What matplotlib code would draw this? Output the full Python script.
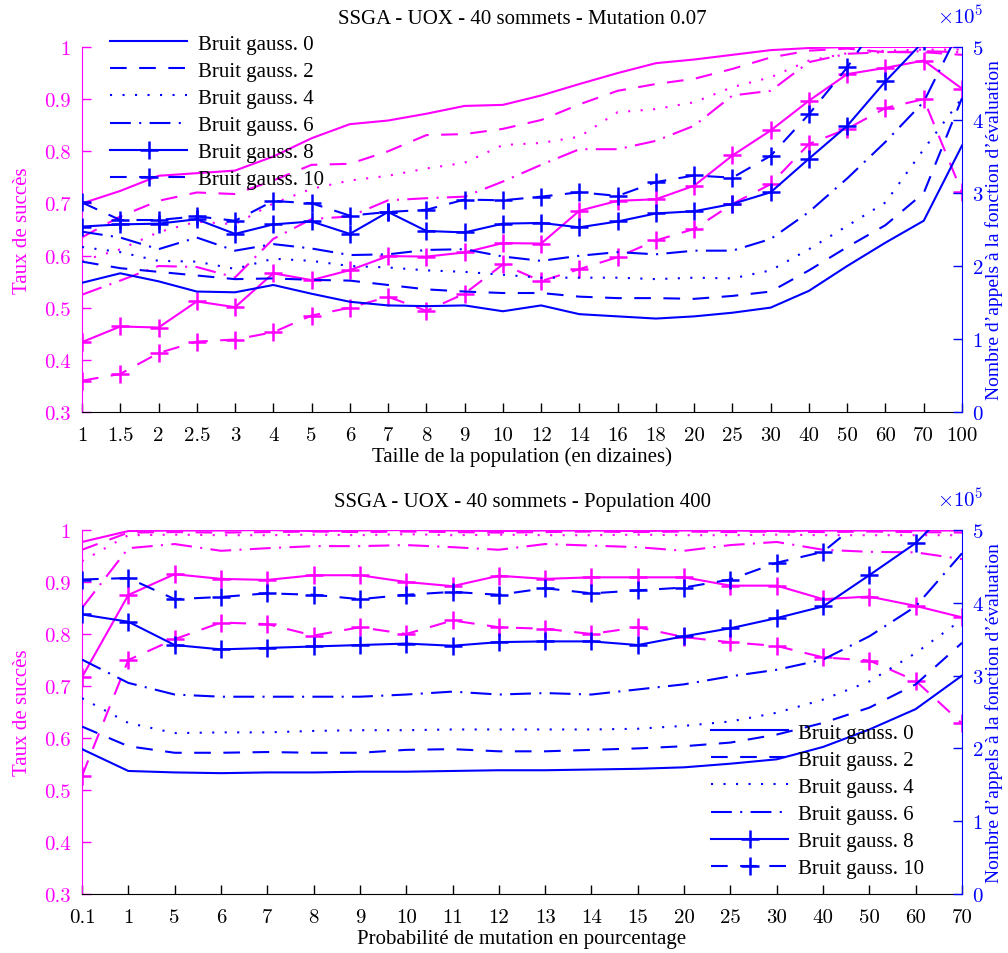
import numpy as np
import matplotlib
matplotlib.use("Agg")
import matplotlib.pyplot as plt
from matplotlib.ticker import ScalarFormatter

plt.rcParams['font.family'] = ['Liberation Serif', 'DejaVu Serif']
plt.rcParams['mathtext.fontset'] = 'cm'
plt.rcParams['axes.formatter.use_mathtext'] = True

# ---- Panel 1 : population size (tens), mutation 0.07 ----
pop_labels = ['1', '1.5', '2', '2.5', '3', '4', '5', '6', '7', '8', '9', '10', '12',
              '14', '16', '18', '20', '25', '30', '40', '50', '60', '70', '100']

# success rate per gaussian noise level
pop_succ_0 = [0.700, 0.724, 0.753, 0.758, 0.763, 0.790, 0.825, 0.852, 0.859, 0.872, 0.887, 0.889,
              0.907, 0.929, 0.950, 0.969, 0.976, 0.985, 0.994, 0.998, 1.000, 1.000, 1.000, 1.000]
pop_succ_2 = [0.635, 0.675, 0.705, 0.721, 0.718, 0.744, 0.774, 0.776, 0.800, 0.831, 0.833, 0.843,
              0.860, 0.890, 0.916, 0.929, 0.939, 0.958, 0.980, 0.993, 0.997, 0.990, 0.990, 0.985]
pop_succ_4 = [0.590, 0.612, 0.645, 0.665, 0.660, 0.700, 0.728, 0.744, 0.753, 0.767, 0.778, 0.812,
              0.816, 0.828, 0.875, 0.881, 0.894, 0.923, 0.942, 0.974, 0.988, 0.993, 0.995, 0.995]
pop_succ_6 = [0.525, 0.552, 0.580, 0.578, 0.558, 0.632, 0.670, 0.675, 0.706, 0.710, 0.713, 0.742,
              0.774, 0.804, 0.804, 0.820, 0.849, 0.907, 0.916, 0.971, 0.987, 0.990, 0.992, 0.990]
pop_succ_8 = [0.434, 0.464, 0.462, 0.512, 0.501, 0.566, 0.553, 0.572, 0.599, 0.598, 0.606, 0.624,
              0.623, 0.686, 0.705, 0.708, 0.734, 0.792, 0.840, 0.897, 0.948, 0.960, 0.974, 0.920]
pop_succ_10 = [0.360, 0.373, 0.413, 0.435, 0.439, 0.453, 0.485, 0.500, 0.521, 0.494, 0.527, 0.583,
               0.551, 0.574, 0.597, 0.629, 0.651, 0.699, 0.737, 0.814, 0.843, 0.883, 0.900, 0.721]

# evaluation calls (x 1e5) per gaussian noise level
pop_eval_0 = [1.77, 1.90, 1.79, 1.65, 1.64, 1.74, 1.62, 1.51, 1.46, 1.45, 1.46, 1.38,
              1.46, 1.34, 1.31, 1.28, 1.31, 1.36, 1.43, 1.66, 2.00, 2.32, 2.62, 3.65]
pop_eval_2 = [2.06, 1.97, 1.92, 1.87, 1.82, 1.83, 1.81, 1.80, 1.74, 1.68, 1.65, 1.63,
              1.63, 1.58, 1.56, 1.56, 1.55, 1.59, 1.65, 1.94, 2.26, 2.56, 3.00, 4.30]
pop_eval_4 = [2.26, 2.19, 2.07, 2.06, 1.96, 2.10, 2.07, 2.00, 1.98, 1.94, 1.92, 1.88,
              1.84, 1.84, 1.84, 1.82, 1.84, 1.83, 1.94, 2.23, 2.55, 2.87, 3.60, 4.30]
pop_eval_6 = [2.47, 2.39, 2.23, 2.39, 2.21, 2.30, 2.24, 2.15, 2.16, 2.22, 2.23, 2.13,
              2.07, 2.14, 2.19, 2.16, 2.21, 2.21, 2.37, 2.74, 3.20, 3.70, 4.25, 5.30]
pop_eval_8 = [2.54, 2.57, 2.58, 2.64, 2.44, 2.57, 2.61, 2.44, 2.74, 2.48, 2.46, 2.58,
              2.59, 2.53, 2.61, 2.72, 2.75, 2.85, 3.01, 3.47, 3.92, 4.53, 5.08, 5.90]
pop_eval_10 = [2.87, 2.63, 2.63, 2.68, 2.62, 2.89, 2.86, 2.69, 2.74, 2.77, 2.91, 2.90,
               2.95, 3.01, 2.96, 3.15, 3.24, 3.21, 3.51, 4.08, 4.72, 5.50, 6.00, 6.50]

# ---- Panel 2 : mutation probability (%), population 400 ----
mut_labels = ['0.1', '1', '5', '6', '7', '8', '9', '10', '11', '12', '13', '14', '15',
              '20', '25', '30', '40', '50', '60', '70']

mut_succ_0 = [0.977, 0.998, 0.999, 0.999, 1.000, 0.998, 0.999, 1.000, 0.999, 0.998,
              0.999, 0.999, 0.998, 0.999, 0.999, 0.998, 0.999, 0.999, 0.999, 0.999]
mut_succ_2 = [0.962, 0.995, 0.996, 0.995, 0.996, 0.997, 0.996, 0.997, 0.996, 0.995,
              0.996, 0.997, 0.996, 0.997, 0.996, 0.997, 0.996, 0.997, 0.996, 0.995]
mut_succ_4 = [0.940, 0.990, 0.991, 0.990, 0.990, 0.991, 0.990, 0.992, 0.990, 0.991,
              0.990, 0.990, 0.991, 0.990, 0.990, 0.991, 0.990, 0.990, 0.990, 0.990]
mut_succ_6 = [0.850, 0.965, 0.973, 0.960, 0.965, 0.969, 0.969, 0.971, 0.967, 0.962,
              0.973, 0.970, 0.967, 0.960, 0.971, 0.977, 0.962, 0.958, 0.957, 0.944]
mut_succ_8 = [0.717, 0.875, 0.915, 0.906, 0.904, 0.913, 0.913, 0.900, 0.892, 0.912,
              0.906, 0.909, 0.909, 0.909, 0.893, 0.893, 0.867, 0.872, 0.854, 0.832]
mut_succ_10 = [0.527, 0.750, 0.790, 0.822, 0.819, 0.797, 0.813, 0.800, 0.826, 0.813,
               0.810, 0.800, 0.813, 0.794, 0.784, 0.777, 0.755, 0.749, 0.710, 0.628]

mut_eval_0 = [1.99, 1.69, 1.67, 1.66, 1.67, 1.67, 1.68, 1.68, 1.69, 1.70,
              1.70, 1.71, 1.72, 1.74, 1.79, 1.85, 2.02, 2.26, 2.54, 3.00]
mut_eval_2 = [2.30, 2.03, 1.94, 1.94, 1.95, 1.94, 1.94, 1.98, 1.99, 1.96,
              1.96, 1.98, 2.00, 2.03, 2.08, 2.19, 2.35, 2.56, 2.88, 3.45]
mut_eval_4 = [2.69, 2.35, 2.21, 2.22, 2.22, 2.24, 2.25, 2.25, 2.26, 2.26,
              2.26, 2.26, 2.27, 2.31, 2.37, 2.49, 2.67, 2.92, 3.31, 3.77]
mut_eval_6 = [3.22, 2.90, 2.74, 2.71, 2.71, 2.71, 2.71, 2.74, 2.78, 2.74,
              2.76, 2.74, 2.81, 2.88, 2.99, 3.08, 3.22, 3.54, 3.95, 4.68]
mut_eval_8 = [3.84, 3.74, 3.42, 3.36, 3.38, 3.40, 3.42, 3.44, 3.41, 3.46,
              3.47, 3.47, 3.42, 3.54, 3.65, 3.79, 3.95, 4.38, 4.82, 5.46]
mut_eval_10 = [4.32, 4.34, 4.05, 4.08, 4.13, 4.11, 4.05, 4.11, 4.15, 4.11,
               4.20, 4.13, 4.17, 4.21, 4.32, 4.55, 4.70, 5.22, 5.60, 6.00]

noise_levels = [0, 2, 4, 6, 8, 10]

MAG = '#ff00ff'
BLUE = '#0000ff'
FS = 15
LW = 1.5
styles = [
    dict(ls='-'),
    dict(ls=(0, (8, 6))),
    dict(ls=(0, (1, 5))),
    dict(ls=(0, (10, 4, 1, 4))),
    dict(ls='-', marker='+'),
    dict(ls=(0, (8, 6)), marker='+'),
]
TICKFONT = dict(family='cmr10', size=FS)
W, H = 1008, 954


def draw_panel(fig, rect, labels, succ, evals, title, xlabel, legend_anchor):
    ax = fig.add_axes(rect)
    ax2 = ax.twinx()
    x = np.arange(len(labels))
    for s, st in zip(succ, styles):
        ax.plot(x, s, color=MAG, lw=LW, ms=13, mew=1.8, **st)
    handles = []
    for e, st, n in zip(evals, styles, noise_levels):
        h, = ax2.plot(x, np.array(e) * 1e5, color=BLUE, lw=LW, ms=13, mew=1.8,
                      label=f'Bruit gauss. {n}', **st)
        handles.append(h)

    ax.set_xlim(0, len(labels) - 1)
    ax.set_ylim(0.3, 1.0)
    ax2.set_ylim(0, 5e5)
    ax.set_xticks(x)
    ax.set_xticklabels(labels, fontdict=TICKFONT)
    ax.set_yticks([0.3, 0.4, 0.5, 0.6, 0.7, 0.8, 0.9, 1.0])
    ax.set_yticklabels(['0.3', '0.4', '0.5', '0.6', '0.7', '0.8', '0.9', '1'],
                       fontdict=TICKFONT, color=MAG)
    ax2.set_yticks([0, 1e5, 2e5, 3e5, 4e5, 5e5])
    fmt = ScalarFormatter(useMathText=True)
    fmt.set_powerlimits((0, 0))
    ax2.yaxis.set_major_formatter(fmt)
    for t in ax2.get_yticklabels():
        t.set_fontfamily('cmr10')
        t.set_fontsize(FS)
    ax2.yaxis.get_offset_text().set_visible(False)
    # scale factor of the right axis, written above its top end
    top_px = H * (1 - (rect[1] + rect[3]))
    fig.text(937 / W, 1 - (top_px - 30) / H, r'$\times10^5$', color=BLUE,
             fontsize=FS, ha='left', va='center')

    for a in (ax, ax2):
        a.spines['top'].set_visible(False)
        a.patch.set_visible(False)
    ax.spines['left'].set_color(MAG)
    ax.spines['right'].set_visible(False)
    ax2.spines['left'].set_visible(False)
    ax2.spines['bottom'].set_visible(False)
    ax2.spines['right'].set_color(BLUE)
    ax.tick_params(axis='x', direction='in', length=6.5, width=1, pad=10, colors='black')
    ax.tick_params(axis='y', direction='in', length=6.5, width=1, pad=8,
                   colors=MAG, labelcolor=MAG)
    ax2.tick_params(axis='y', direction='in', length=6.5, width=1, pad=7,
                    colors=BLUE, labelcolor=BLUE)

    ax.set_ylabel('Taux de succès', color=MAG, fontsize=FS, labelpad=9)
    ax2.set_ylabel("Nombre d’appels à la fonction d’évaluation", color=BLUE,
                   fontsize=14, labelpad=1)
    ax.set_xlabel(xlabel, fontsize=FS, labelpad=2)
    ax.set_title(title, fontsize=FS, pad=17)

    fig.legend(handles=handles, loc='upper left', bbox_to_anchor=legend_anchor,
               bbox_transform=fig.transFigure, frameon=False, fontsize=FS,
               handlelength=3.7, handletextpad=0.5, labelspacing=0.36,
               borderpad=0, borderaxespad=0, numpoints=1)
    return ax, ax2


fig = plt.figure(figsize=(W / 100, H / 100), dpi=100)

draw_panel(fig, [82 / W, 1 - 413 / H, 880 / W, 365 / H], pop_labels,
           [pop_succ_0, pop_succ_2, pop_succ_4, pop_succ_6, pop_succ_8, pop_succ_10],
           [pop_eval_0, pop_eval_2, pop_eval_4, pop_eval_6, pop_eval_8, pop_eval_10],
           'SSGA - UOX - 40 sommets - Mutation 0.07',
           'Taille de la population (en dizaines)',
           (110 / W, 1 - 35 / H))

draw_panel(fig, [82 / W, 1 - 895 / H, 880 / W, 364 / H], mut_labels,
           [mut_succ_0, mut_succ_2, mut_succ_4, mut_succ_6, mut_succ_8, mut_succ_10],
           [mut_eval_0, mut_eval_2, mut_eval_4, mut_eval_6, mut_eval_8, mut_eval_10],
           'SSGA - UOX - 40 sommets - Population 400',
           'Probabilité de mutation en pourcentage',
           (711 / W, 1 - 724 / H))

fig.savefig('out.png', dpi=100)
